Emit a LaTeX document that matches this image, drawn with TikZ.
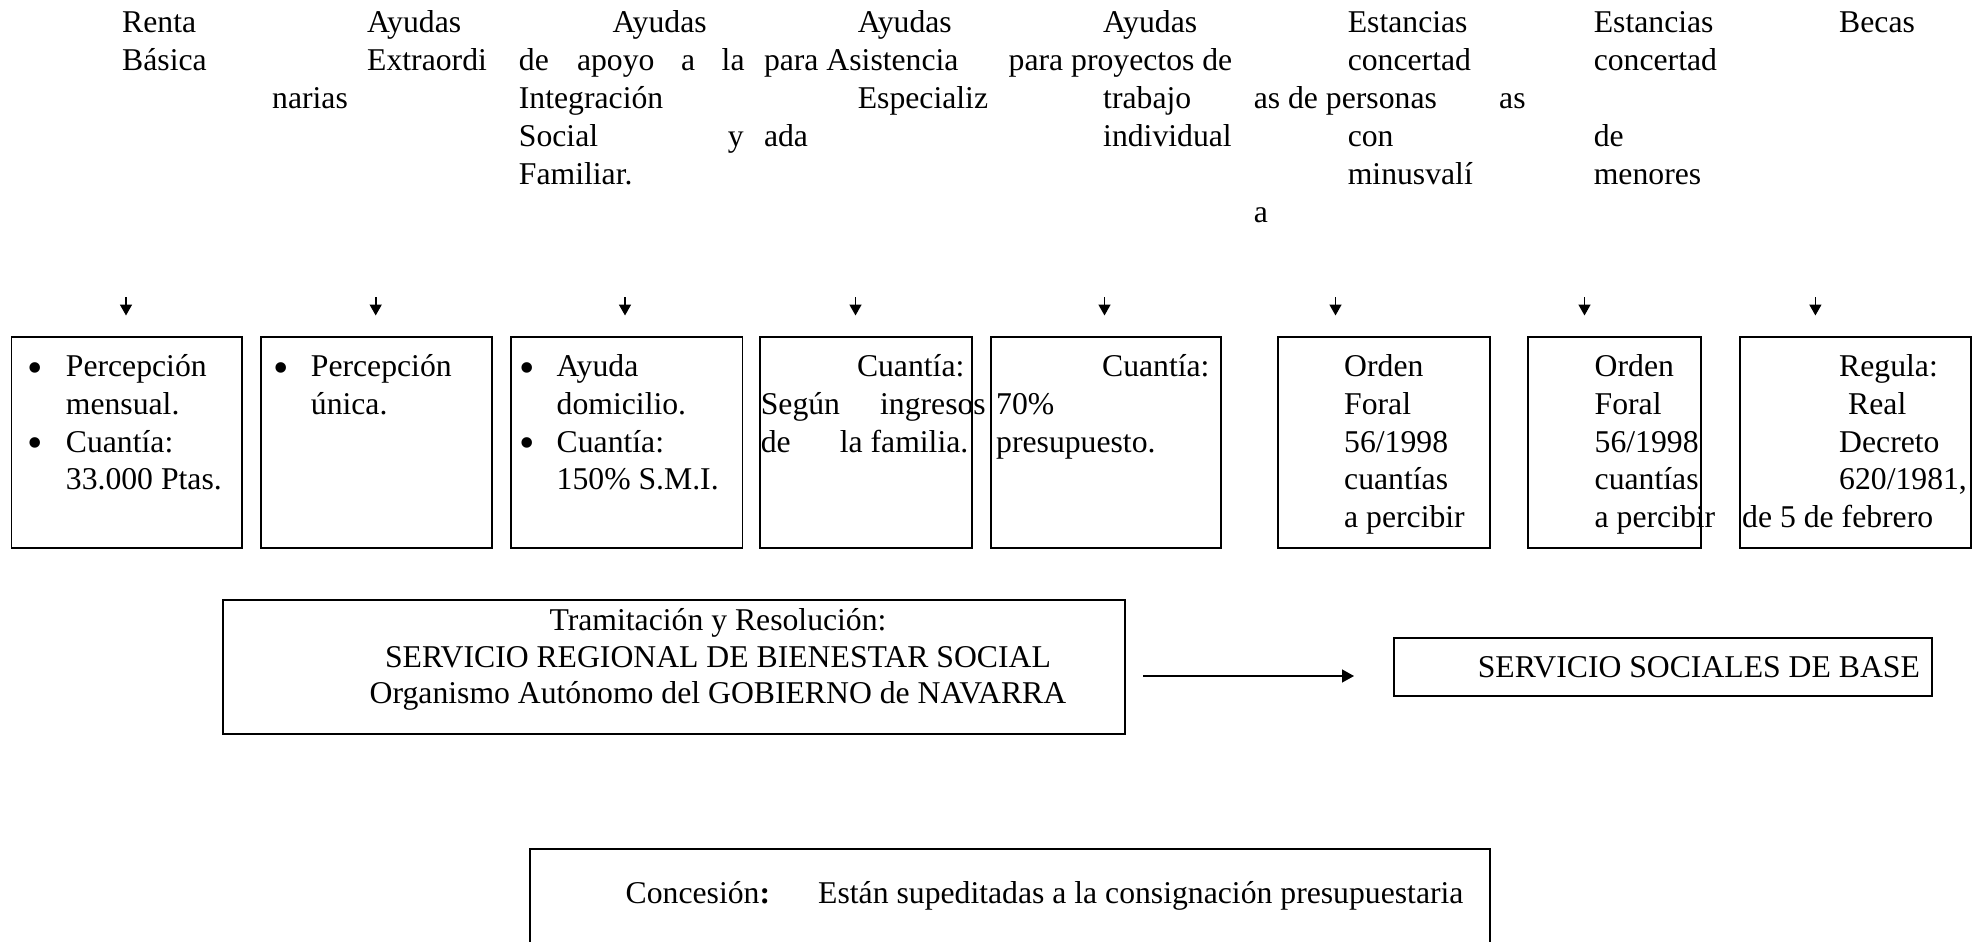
\documentclass[tikz,border=0pt]{standalone}
\usepackage{fontspec}
\setmainfont{Liberation Serif}
\usetikzlibrary{arrows.meta}
\newcommand\mainsz{\fontsize{31.7}{38}\selectfont}
\newcommand\bulsz{\fontsize{44}{44}\selectfont}
\begin{document}
\begin{tikzpicture}[x=1pt,y=-1pt,
  lbl/.style={inner sep=0pt, anchor=base west, font=\mainsz},
  lble/.style={inner sep=0pt, anchor=base east, font=\mainsz},
  lblc/.style={inner sep=0pt, anchor=base, font=\mainsz},
  boxst/.style={draw, line width=1.5pt, inner sep=0pt, anchor=north west},
  arr/.style={-{Triangle[length=11pt,width=12pt]}, line width=1.6pt},
  harr/.style={-{Triangle[length=12pt,width=13pt]}, line width=1.4pt},
  bul/.style={inner sep=0pt, anchor=base, font=\bulsz}]
\useasboundingbox (0,0) rectangle (1979,942);
\fill[white] (0,0) rectangle (1979,942);
\clip (0,0) rectangle (1979,942);

% ---------- top labels ----------
\node[lbl] (c1a) at (122,33) {Renta};
\node[lbl] (c1b) at (122,70.8) {Básica};
\node[lbl] (c2a) at (367,33) {Ayudas};
\node[lbl] (c2b) at (367,70.8) {Extraordi};
\node[lbl] (c2c) at (272,108.6) {narias};
\node[lbl] (c3a) at (612.5,33) {Ayudas};
\node[lbl] (c3b) at (518.7,70.8) {de};
\node[lbl] (c3c) at (576.8,70.8) {apoyo};
\node[lbl] (c3d) at (681,70.8) {a};
\node[lbl] (c3e) at (721.5,70.8) {la};
\node[lbl] (c3f) at (518.7,108.6) {Integración};
\node[lbl] (c3g) at (518.7,146.4) {Social};
\node[lble] (c3h) at (744,146.4) {y};
\node[lbl] (c3i) at (518.7,184.2) {Familiar.};
\node[lbl] (c4a) at (857.6,33) {Ayudas};
\node[lbl] (c4b) at (763.8,70.8) {para Asistencia};
\node[lbl] (c4c) at (857.6,108.6) {Especializ};
\node[lbl] (c4d) at (763.8,146.4) {ada};
\node[lbl] (c5a) at (1103,33) {Ayudas};
\node[lbl] (c5b) at (1008.5,70.8) {para proyectos de};
\node[lbl] (c5c) at (1103,108.6) {trabajo};
\node[lbl] (c5d) at (1103,146.4) {individual};
\node[lbl] (c6a) at (1347.6,33) {Estancias};
\node[lbl] (c6b) at (1347.6,70.8) {concertad};
\node[lbl] (c6c) at (1253.6,108.6) {as de personas};
\node[lbl] (c6d) at (1347.6,146.4) {con};
\node[lbl] (c6e) at (1347.6,184.2) {minusvalí};
\node[lbl] (c6f) at (1253.6,222) {a};
\node[lbl] (c7a) at (1593.6,33) {Estancias};
\node[lbl] (c7b) at (1593.6,70.8) {concertad};
\node[lbl] (c7c) at (1499,108.6) {as};
\node[lbl] (c7d) at (1593.6,146.4) {de};
\node[lbl] (c7e) at (1593.6,184.2) {menores};
\node[lbl] (c8a) at (1839,33) {Becas};

% ---------- down arrows ----------
\foreach \i/\x in {1/126,2/375.7,3/625,4/855.5,5/1104.5,6/1335.5,7/1584.5,8/1815.4}{
  \coordinate (as\i) at (\x,297);
  \coordinate (ae\i) at (\x,315.5);
  \draw[arr] (as\i) -- (ae\i);
}

% ---------- boxes ----------
\node[boxst, minimum width=230.3pt, minimum height=211pt] (b1) at (10.7,336) {};
\node[boxst, minimum width=231pt, minimum height=211pt] (b2) at (260,336) {};
\node[boxst, minimum width=231.6pt, minimum height=211pt] (b3) at (510,336) {};
\node[boxst, minimum width=212pt, minimum height=211pt] (b4) at (759,336) {};
\node[boxst, minimum width=230pt, minimum height=211pt] (b5) at (990,336) {};
\node[boxst, minimum width=212pt, minimum height=211pt] (b6) at (1277,336) {};
\node[boxst, minimum width=173pt, minimum height=211pt] (b7) at (1527,336) {};
\node[boxst, minimum width=231pt, minimum height=211pt] (b8) at (1739,336) {};

% box 1
\node[bul] (b1u1) at (35,382) {•};
\node[bul] (b1u2) at (35,457.6) {•};
\node[lbl] (b1t1) at (65.7,376.5) {Percepción};
\node[lbl] (b1t2) at (65.7,414.3) {mensual.};
\node[lbl] (b1t3) at (65.7,452.1) {Cuantía:};
\node[lbl] (b1t4) at (65.7,489.9) {33.000 Ptas.};
% box 2
\node[bul] (b2u1) at (281.5,382) {•};
\node[lbl] (b2t1) at (310.7,376.5) {Percepción};
\node[lbl] (b2t2) at (310.7,414.3) {única.};
% box 3
\node[bul] (b3u1) at (527,382) {•};
\node[bul] (b3u2) at (527,457.6) {•};
\node[lbl] (b3t1) at (556.5,376.5) {Ayuda};
\node[lbl] (b3t2) at (556.5,414.3) {domicilio.};
\node[lbl] (b3t3) at (556.5,452.1) {Cuantía:};
\node[lbl] (b3t4) at (556.5,489.9) {150\% S.M.I.};
% box 4
\node[lble] (b4t1) at (964.6,376.5) {Cuantía:};
\node[lbl] (b4t2) at (760.6,414.3) {Según};
\node[lble] (b4t3) at (986,414.3) {ingresos};
\node[lbl] (b4t4) at (760.6,452.1) {de};
\node[lble] (b4t5) at (968.5,452.1) {la familia.};
% box 5
\node[lble] (b5t1) at (1209.7,376.5) {Cuantía:};
\node[lbl] (b5t2) at (996,414.3) {70\%};
\node[lbl] (b5t3) at (996,452.1) {presupuesto.};
% box 6
\node[lbl] (b6t1) at (1344,376.5) {Orden};
\node[lbl] (b6t2) at (1344,414.3) {Foral};
\node[lbl] (b6t3) at (1344,452.1) {56/1998};
\node[lbl] (b6t4) at (1344,489.9) {cuantías};
\node[lbl] (b6t5) at (1344,527.7) {a percibir};
% box 7
\node[lbl] (b7t1) at (1594.5,376.5) {Orden};
\node[lbl] (b7t2) at (1594.5,414.3) {Foral};
\node[lbl] (b7t3) at (1594.5,452.1) {56/1998};
\node[lbl] (b7t4) at (1594.5,489.9) {cuantías};
\node[lbl] (b7t5) at (1594.5,527.7) {a percibir};
% box 8
\node[lbl] (b8t1) at (1839,376.5) {Regula:};
\node[lbl] (b8t2) at (1848,414.3) {Real};
\node[lbl] (b8t3) at (1839,452.1) {Decreto};
\node[lbl] (b8t4) at (1839,489.9) {620/1981,};
\node[lbl] (b8t5) at (1742,527.7) {de 5 de febrero};

% ---------- Tramitacion box ----------
\node[boxst, minimum width=902pt, minimum height=134pt] (tr) at (222,599) {};
\node[lblc] (tr1) at (718,630) {Tramitación y Resolución:};
\node[lblc] (tr2) at (718,667) {SERVICIO REGIONAL DE BIENESTAR SOCIAL};
\node[lblc] (tr3) at (718,703) {Organismo Autónomo del GOBIERNO de NAVARRA};

% ---------- arrow to Servicios ----------
\coordinate (hs) at (1143,676);
\coordinate (he) at (1354,676);
\draw[harr] (hs) -- (he);

\node[boxst, minimum width=538pt, minimum height=58pt] (ssb) at (1393,637) {};
\node[lbl] (ssbt) at (1477.6,677) {SERVICIO SOCIALES DE BASE};

% ---------- Concesion box (cut by page bottom) ----------
\node[boxst, minimum width=960pt, minimum height=200pt] (con) at (529,848) {};
\node[lbl] (con1) at (625.5,903) {Concesión\textbf{:}};
\node[lbl] (con2) at (818,903) {Están supeditadas a la consignación presupuestaria};
\end{tikzpicture}
\end{document}
